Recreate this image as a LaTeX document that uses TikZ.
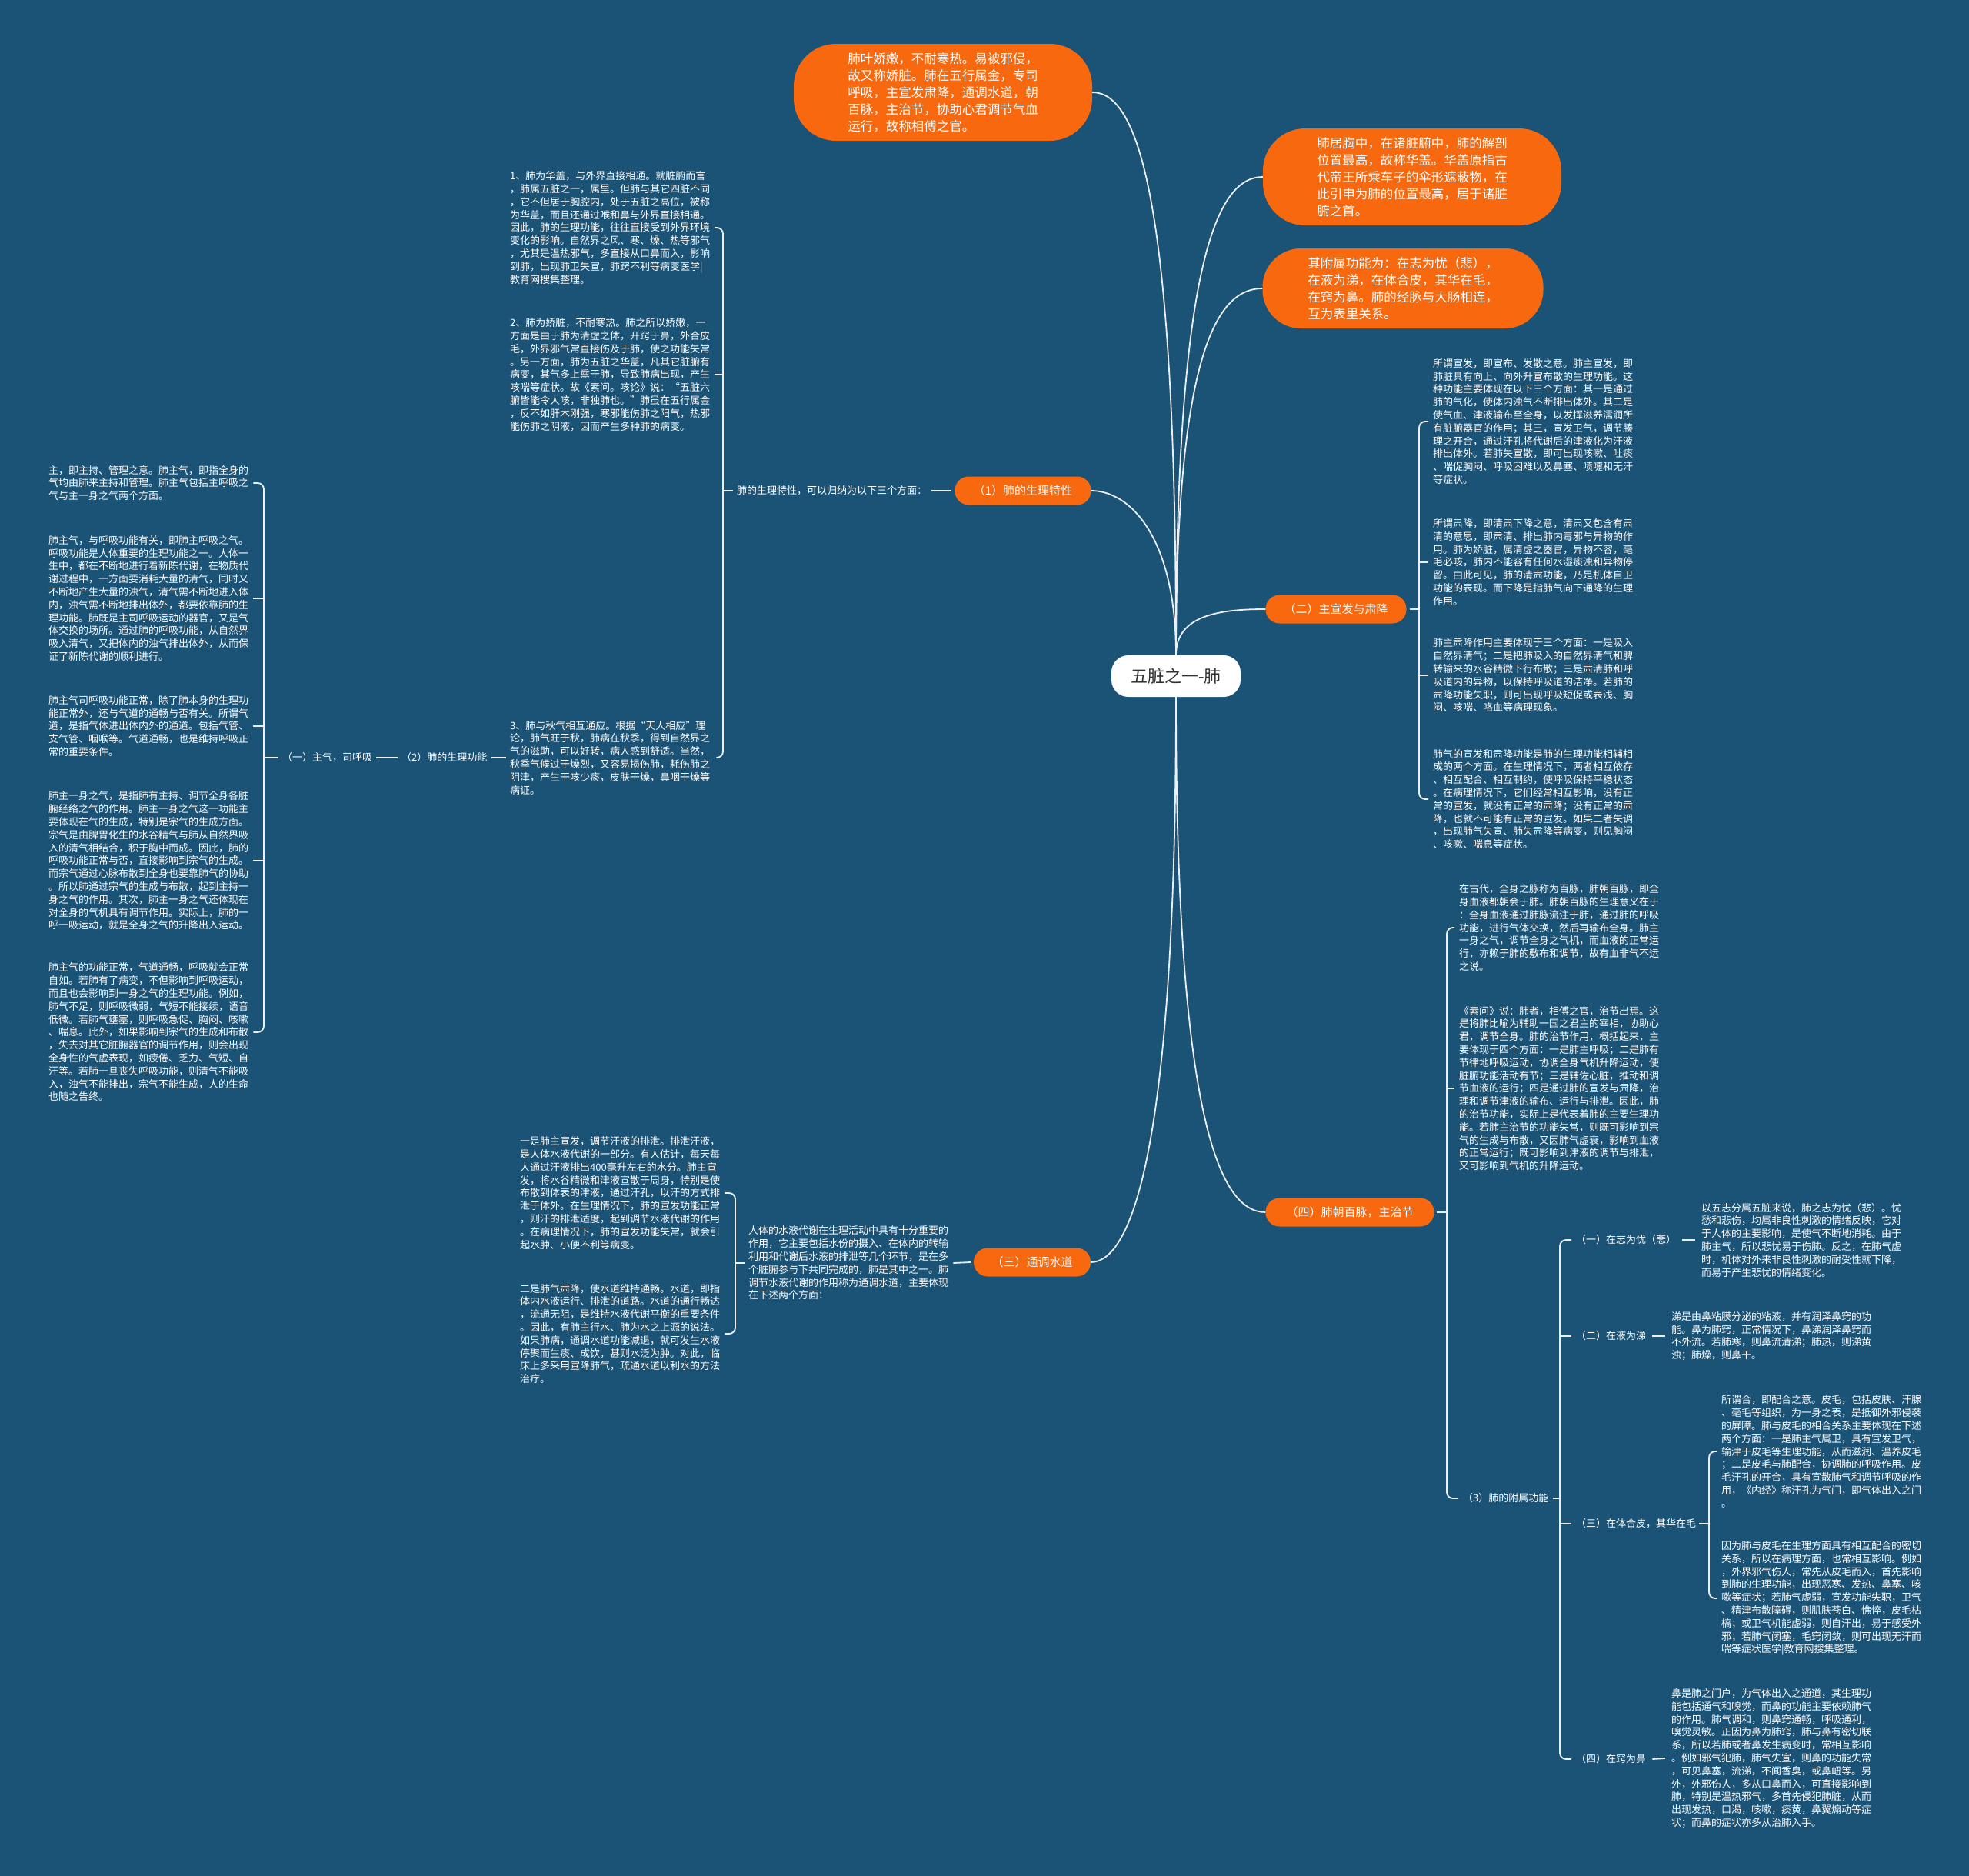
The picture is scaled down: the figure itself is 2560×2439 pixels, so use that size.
\documentclass[tikz,border=0pt]{standalone}
\usepackage{fontspec}
\setmainfont{Noto Sans CJK SC}
\usetikzlibrary{calc}
\definecolor{bgc}{RGB}{27,83,119}
\definecolor{orng}{RGB}{248,104,14}
\definecolor{linec}{RGB}{236,240,244}
\definecolor{darktxt}{RGB}{51,51,51}
\begin{document}
\begin{tikzpicture}[x=1pt,y=-1pt,
  conn/.style={draw=linec, line width=1.8pt},
  brk/.style={draw=linec, line width=1.8pt, rounded corners=8pt},
  blk/.style={text=white, align=left, inner sep=0pt, anchor=west, font=\fontsize{13}{16.8}\selectfont},
  lbl/.style={text=white, inner sep=0pt, anchor=west, font=\fontsize{13}{16}\selectfont},
  bigpill/.style={fill=orng, text=white, align=left, rounded corners=55pt, font=\fontsize{16.5}{22}\selectfont},
  brpill/.style={fill=orng, text=white, rounded corners=18pt, minimum height=37pt, font=\fontsize{15}{18}\selectfont},
  center/.style={fill=white, text=darktxt, rounded corners=22pt, minimum width=168pt, minimum height=54pt, font=\fontsize{22}{26}\selectfont}
]
\useasboundingbox (0,0) rectangle (2560,2439);
\fill[bgc] (0,0) rectangle (2560,2439);

% ---------- central and main branches ----------
\node[center] (C) at (1529,879) {五脏之一-肺};

\node[bigpill, minimum width=388pt, minimum height=126pt] (tp) at (1226,120) {肺叶娇嫩，不耐寒热。易被邪侵，\\故又称娇脏。肺在五行属金，专司\\呼吸，主宣发肃降，通调水道，朝\\百脉，主治节，协助心君调节气血\\运行，故称相傅之官。};
\node[bigpill, minimum width=388pt, minimum height=126pt] (rp1) at (1836,230) {肺居胸中，在诸脏腑中，肺的解剖\\位置最高，故称华盖。华盖原指古\\代帝王所乘车子的伞形遮蔽物，在\\此引申为肺的位置最高，居于诸脏\\腑之首。};
\node[bigpill, rounded corners=50pt, minimum width=365pt, minimum height=104pt] (rp2) at (1824,375) {其附属功能为：在志为忧（悲），\\在液为涕，在体合皮，其华在毛，\\在窍为鼻。肺的经脉与大肠相连，\\互为表里关系。};

\node[brpill, minimum width=177pt] (B1) at (1330,638) {（1）肺的生理特性};
\node[brpill, minimum width=183pt] (B2) at (1737,792) {（二）主宣发与肃降};
\node[brpill, minimum width=152pt] (B3) at (1342,1641) {（三）通调水道};
\node[brpill, minimum width=219pt] (B4) at (1755,1576) {（四）肺朝百脉，主治节};

\draw[conn] (C.north) .. controls (1529,260) and (1480,120) .. (tp.east);
\draw[conn] (C.north) .. controls (1529,330) and (1585,230) .. (rp1.west);
\draw[conn] (C.north) .. controls (1529,450) and (1585,375) .. (rp2.west);
\draw[conn] (C.north) .. controls (1529,700) and (1470,638) .. (B1.east);
\draw[conn] (C.north) .. controls (1529,800) and (1585,792) .. (B2.west);
\draw[conn] (C.south) .. controls (1529,1450) and (1585,1576) .. (B4.west);
\draw[conn] (C.south) .. controls (1529,1500) and (1470,1641) .. (B3.east);

% ---------- (1) physiological characteristics ----------
\node[lbl] (P1) at (958,638) {肺的生理特性，可以归纳为以下三个方面：};
\node[blk] (L1) at (663,296) {1、肺为华盖，与外界直接相通。就脏腑而言\\，肺属五脏之一，属里。但肺与其它四脏不同\\，它不但居于胸腔内，处于五脏之高位，被称\\为华盖，而且还通过喉和鼻与外界直接相通。\\因此，肺的生理功能，往往直接受到外界环境\\变化的影响。自然界之风、寒、燥、热等邪气\\，尤其是温热邪气，多直接从口鼻而入，影响\\到肺，出现肺卫失宣，肺窍不利等病变医学|\\教育网搜集整理。};
\node[blk] (L2) at (663,487) {2、肺为娇脏，不耐寒热。肺之所以娇嫩，一\\方面是由于肺为清虚之体，开窍于鼻，外合皮\\毛，外界邪气常直接伤及于肺，使之功能失常\\。另一方面，肺为五脏之华盖，凡其它脏腑有\\病变，其气多上熏于肺，导致肺病出现，产生\\咳喘等症状。故《素问。咳论》说：“五脏六\\腑皆能令人咳，非独肺也。”肺虽在五行属金\\，反不如肝木刚强，寒邪能伤肺之阳气，热邪\\能伤肺之阴液，因而产生多种肺的病变。};
\node[blk] (L3) at (663,985) {3、肺与秋气相互通应。根据“天人相应”理\\论，肺气旺于秋，肺病在秋季，得到自然界之\\气的滋助，可以好转，病人感到舒适。当然，\\秋季气候过于燥烈，又容易损伤肺，耗伤肺之\\阴津，产生干咳少痰，皮肤干燥，鼻咽干燥等\\病证。};
\coordinate (k1) at (940,638);
\draw[conn] ($(B1.west)+(-4,0)$) -- ($(P1.east)+(6,0)$);
\draw[conn] ($(P1.west)+(-5,0)$) -- (k1);
\draw[brk] ($(L1.east)+(6,0)$) -- (L1.east -| k1) -- (L3.east -| k1) -- ($(L3.east)+(8,0)$);
\draw[conn] ($(L2.east)+(6,0)$) -- (L2.east -| k1);

\node[lbl] (Q2) at (522,985) {（2）肺的生理功能};
\node[lbl] (Q1) at (367,985) {（一）主气，司呼吸};
\draw[conn] ($(L3.west)+(-5,0)$) -- ($(Q2.east)+(5,0)$);
\draw[conn] ($(Q2.west)+(-5,0)$) -- ($(Q1.east)+(5,0)$);
\coordinate (k2) at (343,985);
\draw[conn] ($(Q1.west)+(-5,0)$) -- (k2);

\node[blk] (F1) at (63,628) {主，即主持、管理之意。肺主气，即指全身的\\气均由肺来主持和管理。肺主气包括主呼吸之\\气与主一身之气两个方面。};
\node[blk] (F2) at (63,778) {肺主气，与呼吸功能有关，即肺主呼吸之气。\\呼吸功能是人体重要的生理功能之一。人体一\\生中，都在不断地进行着新陈代谢，在物质代\\谢过程中，一方面要消耗大量的清气，同时又\\不断地产生大量的浊气，清气需不断地进入体\\内，浊气需不断地排出体外，都要依靠肺的生\\理功能。肺既是主司呼吸运动的器官，又是气\\体交换的场所。通过肺的呼吸功能，从自然界\\吸入清气，又把体内的浊气排出体外，从而保\\证了新陈代谢的顺利进行。};
\node[blk] (F3) at (63,944) {肺主气司呼吸功能正常，除了肺本身的生理功\\能正常外，还与气道的通畅与否有关。所谓气\\道，是指气体进出体内外的通道。包括气管、\\支气管、咽喉等。气道通畅，也是维持呼吸正\\常的重要条件。};
\node[blk] (F4) at (63,1119) {肺主一身之气，是指肺有主持、调节全身各脏\\腑经络之气的作用。肺主一身之气这一功能主\\要体现在气的生成，特别是宗气的生成方面。\\宗气是由脾胃化生的水谷精气与肺从自然界吸\\入的清气相结合，积于胸中而成。因此，肺的\\呼吸功能正常与否，直接影响到宗气的生成。\\而宗气通过心脉布散到全身也要靠肺气的协助\\。所以肺通过宗气的生成与布散，起到主持一\\身之气的作用。其次，肺主一身之气还体现在\\对全身的气机具有调节作用。实际上，肺的一\\呼一吸运动，就是全身之气的升降出入运动。};
\node[blk] (F5) at (63,1342) {肺主气的功能正常，气道通畅，呼吸就会正常\\自如。若肺有了病变，不但影响到呼吸运动，\\而且也会影响到一身之气的生理功能。例如，\\肺气不足，则呼吸微弱，气短不能接续，语音\\低微。若肺气壅塞，则呼吸急促、胸闷、咳嗽\\、喘息。此外，如果影响到宗气的生成和布散\\，失去对其它脏腑器官的调节作用，则会出现\\全身性的气虚表现，如疲倦、乏力、气短、自\\汗等。若肺一旦丧失呼吸功能，则清气不能吸\\入，浊气不能排出，宗气不能生成，人的生命\\也随之告终。};
\draw[brk] ($(F1.east)+(6,0)$) -- (F1.east -| k2) -- (F5.east -| k2) -- ($(F5.east)+(6,0)$);
\draw[conn] ($(F2.east)+(6,0)$) -- (F2.east -| k2);
\draw[conn] ($(F3.east)+(6,0)$) -- (F3.east -| k2);
\draw[conn] ($(F4.east)+(6,0)$) -- (F4.east -| k2);

% ---------- (二) ----------
\node[blk] (R1) at (1863,548) {所谓宣发，即宣布、发散之意。肺主宣发，即\\肺脏具有向上、向外升宣布散的生理功能。这\\种功能主要体现在以下三个方面：其一是通过\\肺的气化，使体内浊气不断排出体外。其二是\\使气血、津液输布至全身，以发挥滋养濡润所\\有脏腑器官的作用；其三，宣发卫气，调节腠\\理之开合，通过汗孔将代谢后的津液化为汗液\\排出体外。若肺失宣散，即可出现咳嗽、吐痰\\、喘促胸闷、呼吸困难以及鼻塞、喷嚏和无汗\\等症状。};
\node[blk] (R2) at (1863,731) {所谓肃降，即清肃下降之意，清肃又包含有肃\\清的意思，即肃清、排出肺内毒邪与异物的作\\用。肺为娇脏，属清虚之器官，异物不容，毫\\毛必咳，肺内不能容有任何水湿痰浊和异物停\\留。由此可见，肺的清肃功能，乃是机体自卫\\功能的表现。而下降是指肺气向下通降的生理\\作用。};
\node[blk] (R3) at (1863,878) {肺主肃降作用主要体现于三个方面：一是吸入\\自然界清气；二是把肺吸入的自然界清气和脾\\转输来的水谷精微下行布散；三是肃清肺和呼\\吸道内的异物，以保持呼吸道的洁净。若肺的\\肃降功能失职，则可出现呼吸短促或表浅、胸\\闷、咳喘、咯血等病理现象。};
\node[blk] (R4) at (1863,1039) {肺气的宣发和肃降功能是肺的生理功能相辅相\\成的两个方面。在生理情况下，两者相互依存\\、相互配合、相互制约，使呼吸保持平稳状态\\。在病理情况下，它们经常相互影响，没有正\\常的宣发，就没有正常的肃降；没有正常的肃\\降，也就不可能有正常的宣发。如果二者失调\\，出现肺气失宣、肺失肃降等病变，则见胸闷\\、咳嗽、喘息等症状。};
\coordinate (k3) at (1845,792);
\draw[conn] ($(B2.east)+(4,0)$) -- (k3);
\draw[brk] ($(R1.west)+(-6,0)$) -- (R1.west -| k3) -- (R4.west -| k3) -- ($(R4.west)+(-6,0)$);
\draw[conn] ($(R2.west)+(-6,0)$) -- (R2.west -| k3);
\draw[conn] ($(R3.west)+(-6,0)$) -- (R3.west -| k3);

% ---------- (四) ----------
\node[blk] (S1) at (1897,1206) {在古代，全身之脉称为百脉，肺朝百脉，即全\\身血液都朝会于肺。肺朝百脉的生理意义在于\\：全身血液通过肺脉流注于肺，通过肺的呼吸\\功能，进行气体交换，然后再输布全身。肺主\\一身之气，调节全身之气机，而血液的正常运\\行，亦赖于肺的敷布和调节，故有血非气不运\\之说。};
\node[blk] (S2) at (1897,1415) {《素问》说：肺者，相傅之官，治节出焉。这\\是将肺比喻为辅助一国之君主的宰相，协助心\\君，调节全身。肺的治节作用，概括起来，主\\要体现于四个方面：一是肺主呼吸；二是肺有\\节律地呼吸运动，协调全身气机升降运动，使\\脏腑功能活动有节；三是辅佐心脏，推动和调\\节血液的运行；四是通过肺的宣发与肃降，治\\理和调节津液的输布、运行与排泄。因此，肺\\的治节功能，实际上是代表着肺的主要生理功\\能。若肺主治节的功能失常，则既可影响到宗\\气的生成与布散，又因肺气虚衰，影响到血液\\的正常运行；既可影响到津液的调节与排泄，\\又可影响到气机的升降运动。};
\node[lbl] (S3) at (1902,1948) {（3）肺的附属功能};
\coordinate (k4) at (1881,1576);
\draw[conn] ($(B4.east)+(3,0)$) -- (k4);
\draw[brk] ($(S1.west)+(-6,0)$) -- (S1.west -| k4) -- (S3.west -| k4) -- ($(S3.west)+(-6,0)$);
\draw[conn] ($(S2.west)+(-6,0)$) -- (S2.west -| k4);

\node[lbl] (TaL) at (2049,1612) {（一）在志为忧（悲）};
\node[lbl] (TbL) at (2049,1737) {（二）在液为涕};
\node[lbl] (TcL) at (2049,1981) {（三）在体合皮，其华在毛};
\node[lbl] (TdL) at (2049,2287) {（四）在窍为鼻};
\coordinate (k5) at (2028,1948);
\draw[conn] ($(S3.east)+(5,0)$) -- (k5);
\draw[brk] ($(TaL.west)+(-6,0)$) -- (TaL.west -| k5) -- (TdL.west -| k5) -- ($(TdL.west)+(-6,0)$);
\draw[conn] ($(TbL.west)+(-6,0)$) -- (TbL.west -| k5);
\draw[conn] ($(TcL.west)+(-6,0)$) -- (TcL.west -| k5);

\node[blk] (Ta) at (2212,1612) {以五志分属五脏来说，肺之志为忧（悲）。忧\\愁和悲伤，均属非良性刺激的情绪反映，它对\\于人体的主要影响，是使气不断地消耗。由于\\肺主气，所以悲忧易于伤肺。反之，在肺气虚\\时，机体对外来非良性刺激的耐受性就下降，\\而易于产生悲忧的情绪变化。};
\node[blk] (Tb) at (2173,1737) {涕是由鼻粘膜分泌的粘液，并有润泽鼻窍的功\\能。鼻为肺窍，正常情况下，鼻涕润泽鼻窍而\\不外流。若肺寒，则鼻流清涕；肺热，则涕黄\\浊；肺燥，则鼻干。};
\node[blk] (Tc1) at (2238,1887) {所谓合，即配合之意。皮毛，包括皮肤、汗腺\\、毫毛等组织，为一身之表，是抵御外邪侵袭\\的屏障。肺与皮毛的相合关系主要体现在下述\\两个方面：一是肺主气属卫，具有宣发卫气，\\输津于皮毛等生理功能，从而滋润、温养皮毛\\；二是皮毛与肺配合，协调肺的呼吸作用。皮\\毛汗孔的开合，具有宣散肺气和调节呼吸的作\\用，《内经》称汗孔为气门，即气体出入之门\\。};
\node[blk] (Tc2) at (2238,2078) {因为肺与皮毛在生理方面具有相互配合的密切\\关系，所以在病理方面，也常相互影响。例如\\，外界邪气伤人，常先从皮毛而入，首先影响\\到肺的生理功能，出现恶寒、发热、鼻塞、咳\\嗽等症状；若肺气虚弱，宣发功能失职，卫气\\、精津布散障碍，则肌肤苍白、憔悴，皮毛枯\\槁；或卫气机能虚弱，则自汗出，易于感受外\\邪；若肺气闭塞，毛窍闭敛，则可出现无汗而\\喘等症状医学|教育网搜集整理。};
\node[blk] (Td) at (2173,2286) {鼻是肺之门户，为气体出入之通道，其生理功\\能包括通气和嗅觉，而鼻的功能主要依赖肺气\\的作用。肺气调和，则鼻窍通畅，呼吸通利，\\嗅觉灵敏。正因为鼻为肺窍，肺与鼻有密切联\\系，所以若肺或者鼻发生病变时，常相互影响\\。例如邪气犯肺，肺气失宣，则鼻的功能失常\\，可见鼻塞，流涕，不闻香臭，或鼻衄等。另\\外，外邪伤人，多从口鼻而入，可直接影响到\\肺，特别是温热邪气，多首先侵犯肺脏，从而\\出现发热，口渴，咳嗽，痰黄，鼻翼煽动等症\\状；而鼻的症状亦多从治肺入手。};
\draw[conn] ($(TaL.east)+(8,0)$) -- ($(Ta.west)+(-8,0)$);
\draw[conn] ($(TbL.east)+(8,0)$) -- ($(Tb.west)+(-8,0)$);
\draw[conn] ($(TdL.east)+(8,0)$) -- ($(Td.west)+(-8,0)$);
\coordinate (k6) at (2222,1981);
\draw[conn] ($(TcL.east)+(4,0)$) -- (k6);
\draw[brk] ($(Tc1.west)+(-6,0)$) -- (Tc1.west -| k6) -- (Tc2.west -| k6) -- ($(Tc2.west)+(-6,0)$);

% ---------- (三) ----------
\node[blk] (WP) at (973,1642) {人体的水液代谢在生理活动中具有十分重要的\\作用，它主要包括水份的摄入、在体内的转输\\利用和代谢后水液的排泄等几个环节，是在多\\个脏腑参与下共同完成的，肺是其中之一。肺\\调节水液代谢的作用称为通调水道，主要体现\\在下述两个方面：};
\node[blk] (WA) at (676,1551) {一是肺主宣发，调节汗液的排泄。排泄汗液，\\是人体水液代谢的一部分。有人估计，每天每\\人通过汗液排出400毫升左右的水分。肺主宣\\发，将水谷精微和津液宣散于周身，特别是使\\布散到体表的津液，通过汗孔，以汗的方式排\\泄于体外。在生理情况下，肺的宣发功能正常\\，则汗的排泄适度，起到调节水液代谢的作用\\。在病理情况下，肺的宣发功能失常，就会引\\起水肿、小便不利等病变。};
\node[blk] (WB) at (676,1734) {二是肺气肃降，使水道维持通畅。水道，即指\\体内水液运行、排泄的道路。水道的通行畅达\\，流通无阻，是维持水液代谢平衡的重要条件\\。因此，有肺主行水、肺为水之上源的说法。\\如果肺病，通调水道功能减退，就可发生水液\\停聚而生痰、成饮，甚则水泛为肿。对此，临\\床上多采用宣降肺气，疏通水道以利水的方法\\治疗。};
\draw[conn] ($(B3.west)+(-4,0)$) -- ($(WP.east)+(6,0)$);
\coordinate (k7) at (956,1642);
\draw[conn] ($(WP.west)+(-5,0)$) -- (k7);
\draw[brk] ($(WA.east)+(6,0)$) -- (WA.east -| k7) -- (WB.east -| k7) -- ($(WB.east)+(6,0)$);
\end{tikzpicture}
\end{document}
